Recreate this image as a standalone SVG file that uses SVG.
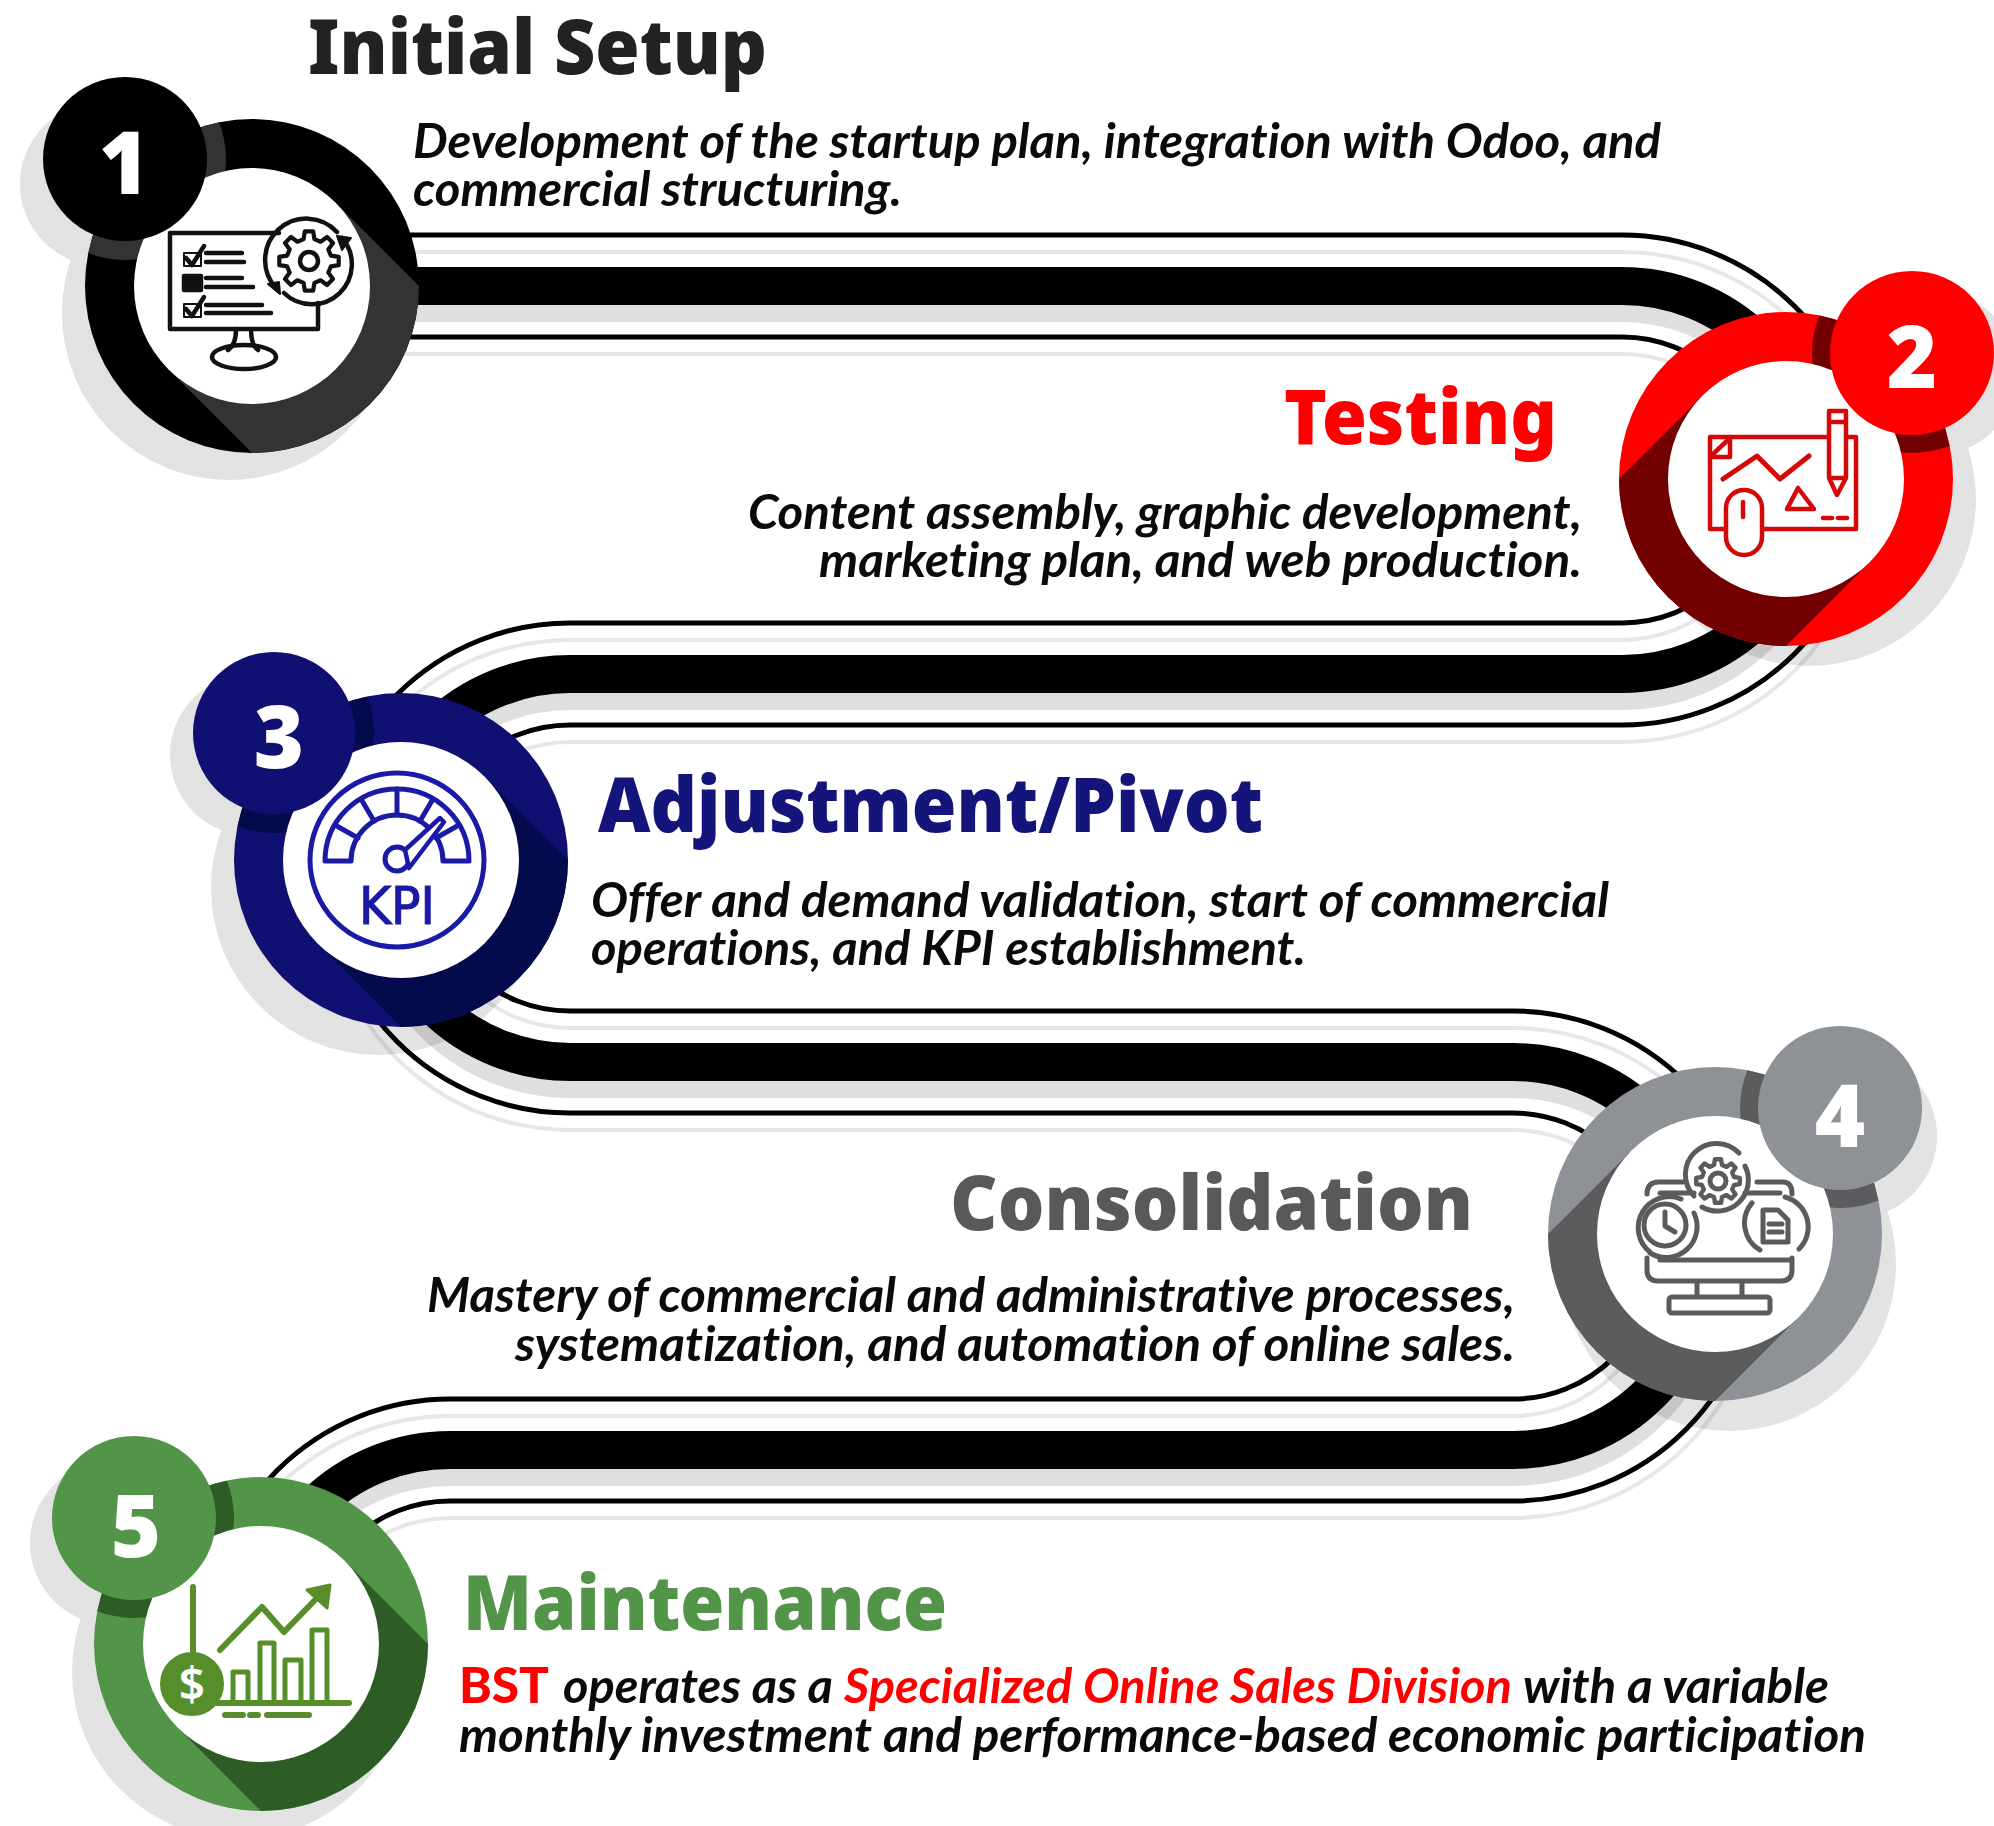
<svg xmlns="http://www.w3.org/2000/svg" width="1994" height="1826" viewBox="0 0 1994 1826">
<style>
text{font-family:"Noto Sans","Open Sans","Liberation Sans",sans-serif}
.title{font-size:76px;font-weight:900}
.body{font-family:Lato,"Open Sans",sans-serif;font-size:48.5px;font-weight:700;font-style:italic;fill:#0a0a0a;font-variant-ligatures:none}
.num{font-size:86px;font-weight:900;fill:#fff;text-anchor:middle}
.thin,.thick{fill:none;stroke:#000}
.thin{stroke-width:5}
.thick{stroke-width:38}
.thinS{stroke-width:4;opacity:.75}
.shadow{opacity:.11}
.ic{fill:none;stroke-linecap:round;stroke-linejoin:round}
</style>
<defs>
<path id="track" d="M252 286H1622A194 194 0 0 1 1622 674H570A194 194 0 0 0 570 1062H1513A194 194 0 0 1 1513 1450H450A194 194 0 0 0 256 1644"/>
<path id="lineA" d="M252 235H1622A245 245 0 0 1 1622 725H570A143 143 0 0 0 570 1011H1513A245 245 0 0 1 1513 1501H450A143 143 0 0 0 307 1644"/>
<path id="lineB" d="M252 337H1622A143 143 0 0 1 1622 623H570A245 245 0 0 0 570 1113H1513A143 143 0 0 1 1513 1399H450A245 245 0 0 0 205 1644"/>
<path id="darkR" d="M83.4-83.4L167 0A167 167 0 0 1 0 167L-83.4 83.4A118 118 0 0 0 83.4-83.4Z"/>
<path id="darkL" d="M-83.4-83.4L-167 0A167 167 0 0 0 0 167L83.4 83.4A118 118 0 0 1-83.4-83.4Z"/>
<path id="gear" d="M72.8-18.1L99-13.9L99 13.9L72.8 18.1L64.3 38.6L79.9 60.2L60.2 79.9L38.6 64.3L18.1 72.8L13.9 99L-13.9 99L-18.1 72.8L-38.6 64.3L-60.2 79.9L-79.9 60.2L-64.3 38.6L-72.8 18.1L-99 13.9L-99-13.9L-72.8-18.1L-64.3-38.6L-79.9-60.2L-60.2-79.9L-38.6-64.3L-18.1-72.8L-13.9-99L13.9-99L18.1-72.8L38.6-64.3L60.2-79.9L79.9-60.2L64.3-38.6L72.8-18.1Z"/>
<clipPath id="c1"><circle cx="252" cy="286" r="167"/></clipPath>
<clipPath id="c2"><circle cx="1786" cy="479" r="167"/></clipPath>
<clipPath id="c3"><circle cx="401" cy="860" r="167"/></clipPath>
<clipPath id="c4"><circle cx="1715" cy="1234" r="167"/></clipPath>
<clipPath id="c5"><circle cx="261" cy="1644" r="167"/></clipPath>
</defs>

<g id="connectors">
<g transform="translate(0 17)" style="opacity:.12">
<use href="#track" class="thick"/>
<use href="#lineA" class="thin thinS"/>
<use href="#lineB" class="thin thinS"/>
</g>
<use href="#lineA" class="thin"/>
<use href="#lineB" class="thin"/>
<use href="#track" class="thick"/>
</g>

<g id="node-1">
<g class="shadow"><circle cx="229" cy="313" r="167"/><circle cx="102" cy="184" r="82"/></g>
<circle cx="252" cy="286" r="167" fill="#000"/>
<use href="#darkR" x="252" y="286" fill="#333"/>
<circle cx="125" cy="159" r="101" fill="#333" clip-path="url(#c1)"/>
<circle cx="252" cy="286" r="118" fill="#fff"/>
<g class="ic" stroke="#111" stroke-width="4.5">
<path d="M279 233H170V329H318V303"/>
<path d="M236 329Q236 345 228 350M251 329Q251 345 258 350"/>
<ellipse cx="244" cy="357" rx="32" ry="12"/>
<use href="#gear" transform="translate(309 261) scale(.3)" stroke-width="14"/>
<circle cx="309" cy="261" r="9"/>
<path d="M276 288A40 40 0 0 1 337 232M342 238A40 40 0 0 1 284 293" />
<path d="M337 236L351 238L342 250ZM279 282L268 284L280 294Z" fill="#111" stroke-width="2"/>
<path d="M206 253H242M206 262H244M206 278H242M206 287H253M206 305H262M206 313H271"/>
<rect x="184" y="253" width="17" height="13" stroke-width="2"/>
<path d="M186 258L192 265L204 246"/>
<rect x="184" y="276" width="17" height="14" fill="#111"/>
<rect x="184" y="304" width="17" height="13" stroke-width="2"/>
<path d="M186 309L192 316L204 297"/>
</g>
<circle cx="125" cy="159" r="82" fill="#000"/>
<text class="num" x="124" y="194">1</text>
</g>

<g id="node-2">
<g class="shadow"><circle cx="1809" cy="499" r="167"/><circle cx="1935" cy="373" r="82"/></g>
<circle cx="1786" cy="479" r="167" fill="#f00"/>
<use href="#darkL" x="1786" y="479" fill="#730000"/>
<circle cx="1912" cy="353" r="100" fill="#730000" clip-path="url(#c2)"/>
<circle cx="1786" cy="479" r="118" fill="#fff"/>
<g class="ic" stroke="#d40808" stroke-width="4.5">
<path d="M1829 437H1710V529H1726M1762 529H1856V437H1846"/>
<path d="M1710 457H1730V437M1712 455L1729 439"/>
<path d="M1723 479L1757 456L1780 479L1809 456" stroke-width="5"/>
<path d="M1829 411H1846V478L1837 495L1829 478ZM1829 422H1846M1829 478H1846"/>
<path d="M1798 488L1787 509H1814ZM1823 518H1832M1838 518H1847"/>
<rect x="1726" y="490" width="36" height="65" rx="18" fill="#fff"/>
<path d="M1743 502V517"/>
</g>
<circle cx="1912" cy="353" r="82" fill="#f00"/>
<text class="num" x="1912" y="388">2</text>
</g>

<g id="node-3">
<g class="shadow"><circle cx="378" cy="888" r="167"/><circle cx="251" cy="755" r="81"/></g>
<circle cx="401" cy="860" r="167" fill="#101073"/>
<use href="#darkR" x="401" y="860" fill="#030b4c"/>
<circle cx="274" cy="733" r="100" fill="#030b4c" clip-path="url(#c3)"/>
<circle cx="401" cy="860" r="118" fill="#fff"/>
<g class="ic" stroke="#1a1aa6" stroke-width="5">
<circle cx="397" cy="860" r="87"/>
<path d="M325 861A72 72 0 0 1 469 861H443A46 46 0 0 0 351 861Z"/>
<path d="M397 789V815M361 799L374 821M335 825L358 838M433 799L420 821M459 825L436 838"/>
<circle cx="397" cy="859" r="12" fill="#fff"/>
<path d="M405 850L440 818L444 822L409 868Z" fill="#fff" stroke-width="4.5"/>
</g>
<text x="359" y="924" font-size="52" textLength="76" lengthAdjust="spacingAndGlyphs" stroke="#1a1aa6" stroke-width="1.2" style="font-family:'DejaVu Sans',sans-serif;fill:#1a1aa6">KPI</text>
<circle cx="274" cy="733" r="81" fill="#101073"/>
<text class="num" x="279" y="768">3</text>
</g>

<g id="node-4">
<g class="shadow"><circle cx="1729" cy="1264" r="167"/><circle cx="1855" cy="1136" r="82"/></g>
<circle cx="1715" cy="1234" r="167" fill="#8e9196"/>
<use href="#darkL" x="1715" y="1234" fill="#5c5c5e"/>
<circle cx="1840" cy="1108" r="100" fill="#5c5c5e" clip-path="url(#c4)"/>
<circle cx="1715" cy="1234" r="118" fill="#fff"/>
<g class="ic" stroke="#5a5b5d" stroke-width="5">
<use href="#gear" transform="translate(1718 1181) scale(.22)" stroke-width="20"/>
<circle cx="1718" cy="1181" r="8"/>
<path d="M1694 1196A29 29 0 0 1 1739 1153M1745 1166A31 31 0 0 1 1702 1207"/>
<circle cx="1665" cy="1225" r="21"/>
<path d="M1665 1212V1226L1675 1232"/>
<path d="M1681 1199A31 31 0 0 0 1650 1252M1650 1253A31 31 0 0 0 1694 1213"/>
<path d="M1763 1210H1778L1788 1220V1242H1763ZM1769 1224H1782M1769 1232H1782"/>
<path d="M1785 1197A31 31 0 0 1 1799 1249M1760 1250A31 31 0 0 1 1752 1203"/>
<path d="M1683 1182H1659Q1647 1182 1647 1194M1660 1193H1694M1757 1182H1783Q1792 1182 1792 1194M1745 1193H1780"/>
<path d="M1660 1260H1792M1647 1258V1270Q1647 1281 1658 1281H1781Q1792 1281 1792 1270V1258M1697 1281V1295M1742 1281V1295"/>
<rect x="1669" y="1297" width="101" height="16" rx="3"/>
</g>
<circle cx="1840" cy="1108" r="82" fill="#8e9196"/>
<text class="num" x="1840" y="1147">4</text>
</g>

<g id="node-5">
<g class="shadow"><circle cx="239" cy="1672" r="167"/><circle cx="112" cy="1543" r="82"/></g>
<circle cx="261" cy="1644" r="167" fill="#529448"/>
<use href="#darkR" x="261" y="1644" fill="#2d5c25"/>
<circle cx="134" cy="1518" r="100" fill="#2d5c25" clip-path="url(#c5)"/>
<circle cx="261" cy="1644" r="118" fill="#fff"/>
<g class="ic" stroke="#578e2a" stroke-width="6">
<path d="M193 1587V1655M217 1703H349M225 1715H243M250 1715H258M267 1715H309M220 1650L262 1607L284 1632L315 1600"/>
<path d="M233 1703V1672H248V1703M260 1703V1643H274V1703M285 1703V1660H301V1703M312 1703V1630H327V1703" stroke-width="5"/>
<path d="M307 1590L330 1585L327 1608Z" fill="#578e2a" stroke-width="3"/>
<circle cx="192" cy="1684" r="29" fill="#578e2a"/>
</g>
<text x="192" y="1701" font-size="46" fill="#fff" text-anchor="middle" style="font-weight:600">$</text>
<circle cx="134" cy="1518" r="82" fill="#529448"/>
<text class="num" x="136" y="1557">5</text>
</g>

<g id="labels">
<text class="title" x="308" y="74" textLength="459" lengthAdjust="spacingAndGlyphs" fill="#222">Initial Setup</text>
<text class="body" x="413" y="158" textLength="1248" lengthAdjust="spacingAndGlyphs">Development of the startup plan, integration with Odoo, and</text>
<text class="body" x="413" y="206" textLength="489" lengthAdjust="spacingAndGlyphs">commercial structuring.</text>
<text class="title" x="1284" y="444" textLength="273" lengthAdjust="spacingAndGlyphs" fill="#f00">Testing</text>
<text class="body" x="748" y="529" textLength="834" lengthAdjust="spacingAndGlyphs">Content assembly, graphic development,</text>
<text class="body" x="819" y="577" textLength="763" lengthAdjust="spacingAndGlyphs">marketing plan, and web production.</text>
<text class="title" x="598" y="832" textLength="665" lengthAdjust="spacingAndGlyphs" fill="#14147a">Adjustment/Pivot</text>
<text class="body" x="591" y="917" textLength="1018" lengthAdjust="spacingAndGlyphs">Offer and demand validation, start of commercial</text>
<text class="body" x="591" y="965" textLength="715" lengthAdjust="spacingAndGlyphs">operations, and KPI establishment.</text>
<text class="title" x="950" y="1230" textLength="523" lengthAdjust="spacingAndGlyphs" fill="#58595b">Consolidation</text>
<text class="body" x="427" y="1312" textLength="1088" lengthAdjust="spacingAndGlyphs">Mastery of commercial and administrative processes,</text>
<text class="body" x="515" y="1361" textLength="1000" lengthAdjust="spacingAndGlyphs">systematization, and automation of online sales.</text>
<text class="title" x="463" y="1630" textLength="484" lengthAdjust="spacingAndGlyphs" fill="#529448">Maintenance</text>
<text class="body" y="1703"><tspan x="459" textLength="90" lengthAdjust="spacingAndGlyphs" style="fill:#f00;font-weight:900;font-style:normal">BST</tspan> <tspan x="563" textLength="270" lengthAdjust="spacingAndGlyphs">operates as a</tspan> <tspan x="844" textLength="668" lengthAdjust="spacingAndGlyphs" style="fill:#f00">Specialized Online Sales Division</tspan> <tspan x="1523" textLength="306" lengthAdjust="spacingAndGlyphs">with a variable</tspan></text>
<text class="body" x="459" y="1752" textLength="1407" lengthAdjust="spacingAndGlyphs">monthly investment and performance-based economic participation</text>
</g>
</svg>
